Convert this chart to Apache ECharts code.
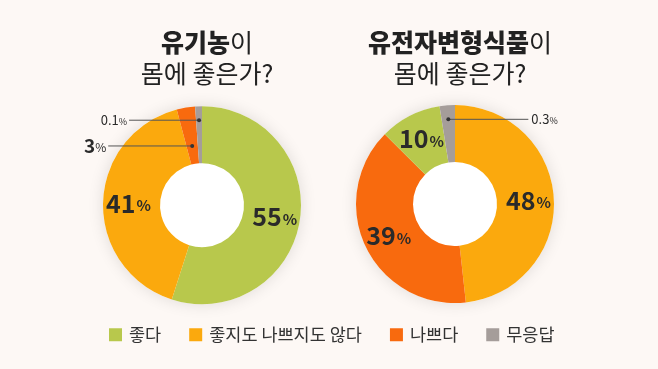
<!DOCTYPE html>
<html><head><meta charset="utf-8">
<script src="https://cdn.jsdelivr.net/npm/echarts@6/dist/echarts.min.js"></script>
<style>html,body{margin:0;padding:0;background:#fdf8f5;}#c{width:658px;height:369px;}</style>
</head><body><div id="c"></div>
<script>
// ---- data ----
const categories = ['좋다', '좋지도 나쁘지도 않다', '나쁘다', '무응답'];
const organicNames = ['좋다', '좋지도 나쁘지도 않다', '나쁘다', '무응답'];
const organicValues = [55, 41, 3, 0.1];
const gmoNames = ['좋지도 나쁘지도 않다', '나쁘다', '좋다', '무응답'];
const gmoValues = [48, 39, 10, 0.3];
const titleBold = ['유기농', '유전자변형식품'];
const titleRest = ['이', '이'];
const titleLine2 = ['몸에 좋은가?', '몸에 좋은가?'];

// ---- style ----
const FONT = '"Noto Sans CJK KR", "Noto Sans", sans-serif';
const colors = {'좋다': '#b8c84c', '좋지도 나쁘지도 않다': '#fba90d', '나쁘다': '#f86a0e', '무응답': '#a59d9a'};
const centers = [['30.7%', '55.6%'], ['69.15%', '55.3%']];
const radius = ['42', '99'];
const minAngles = [4, 9];
// callout style per series|name : dot radius, leader length, side, font size
const callouts = {
  '0|무응답': {r: 85, len: 70, side: 'left', n: 13, u: 9, w: 400},
  '0|나쁘다': {r: 60, len: 84, side: 'left', n: 19, u: 12, w: 600},
  '1|무응답': {r: 85, len: 80, side: 'right', n: 13, u: 9, w: 400}
};
const seriesNames = [organicNames, gmoNames];
const seriesValues = [organicValues, gmoValues];

const chart = echarts.init(document.getElementById('c'), null, {renderer: 'canvas'});
const W = 658, H = 369;
const pct = (s, t) => parseFloat(s) / 100 * t;
const guides = {};

function buildData(si) {
  return seriesNames[si].map((n, i) => {
    const key = si + '|' + n;
    const c = callouts[key];
    const item = {name: n, value: seriesValues[si][i], itemStyle: {color: colors[n]}};
    if (c) {
      item.label = {position: 'outside', formatter: p => `{n|${p.value}}{u|%}`,
        rich: {n: {fontSize: c.n, fontWeight: c.w, color: '#2a2a2a', fontFamily: FONT},
               u: {fontSize: c.u, color: '#2a2a2a', fontFamily: FONT, padding: [3, 0, 0, 0]}}};
      item.labelLine = {show: true, lineStyle: {opacity: 0}};
    } else {
      item.label = {position: 'inside', formatter: p => `{n|${p.value}}{u|%}`,
        rich: {n: {fontSize: 25, fontWeight: 'bold', color: '#2a2a2a', fontFamily: FONT},
               u: {fontSize: 15, fontWeight: 'bold', color: '#2a2a2a', fontFamily: FONT, padding: [5, 0, 0, 1]}}};
      item.labelLine = {show: false};
    }
    return item;
  });
}

function labelLayout(params) {
  const si = params.seriesIndex;
  const name = seriesNames[si][params.dataIndex];
  const key = si + '|' + name;
  const c = callouts[key];
  if (!c) return;
  const cx = pct(centers[si][0], W), cy = pct(centers[si][1], H);
  let px, py;
  if (params.labelLinePoints && params.labelLinePoints.length) {
    px = params.labelLinePoints[0][0]; py = params.labelLinePoints[0][1];
  } else {
    px = params.rect.x + params.rect.width / 2; py = params.rect.y + params.rect.height / 2;
  }
  const dx = px - cx, dy = py - cy, d = Math.hypot(dx, dy) || 1;
  const x0 = cx + dx / d * c.r, y0 = cy + dy / d * c.r;
  const ex = c.side === 'left' ? x0 - c.len : x0 + c.len;
  guides[key] = [x0, y0, ex];
  return {
    x: c.side === 'left' ? ex - 2 : ex + 3,
    y: y0,
    align: c.side === 'left' ? 'right' : 'left',
    verticalAlign: 'middle'
  };
}

function titleOpt(i) {
  return {
    text: `{b|${titleBold[i]}}{r|${titleRest[i]}}\n{r|${titleLine2[i]}}`,
    left: pct(centers[i][0], W), top: 22, textAlign: 'center',
    textStyle: {rich: {
      b: {fontSize: 25, fontWeight: 900, color: '#222', fontFamily: FONT, lineHeight: 31},
      r: {fontSize: 25, fontWeight: 400, color: '#222', fontFamily: FONT, lineHeight: 31}
    }}
  };
}

const option = {
  animation: false,
  backgroundColor: '#fdf8f5',
  title: [titleOpt(0), titleOpt(1)],
  legend: {
    data: categories, left: 109, top: 326, padding: 0,
    itemWidth: 13, itemHeight: 13, itemGap: 28, icon: 'rect',
    textStyle: {fontSize: 17.5, color: '#333', fontFamily: FONT, padding: [0, 0, 0, 2]}
  },
  series: [0, 1].map(si => ({
    type: 'pie', center: centers[si], radius: radius, minAngle: minAngles[si],
    startAngle: 90, clockwise: true, avoidLabelOverlap: false, z: 3,
    label: {show: true}, labelLayout: labelLayout,
    emphasis: {disabled: true},
    data: buildData(si)
  })).concat([0, 1].map(si => ({
    type: 'pie', center: centers[si], radius: [0, radius[1]], silent: true, z: 1,
    label: {show: false}, labelLine: {show: false}, emphasis: {disabled: true},
    itemStyle: {color: '#ffffff', shadowBlur: 16, shadowColor: 'rgba(0,0,0,0.12)'},
    data: [{name: 'bg' + si, value: 1}]
  })))
};
chart.setOption(option);
const gEls = [];
Object.keys(guides).forEach(k => {
  const [x0, y0, ex] = guides[k];
  gEls.push({type: 'line', shape: {x1: x0, y1: y0, x2: ex, y2: y0}, style: {stroke: '#555', lineWidth: 1}, z: 100});
  gEls.push({type: 'circle', shape: {cx: x0, cy: y0, r: 2}, style: {fill: '#333'}, z: 101});
});
chart.setOption({graphic: gEls});
</script></body></html>
